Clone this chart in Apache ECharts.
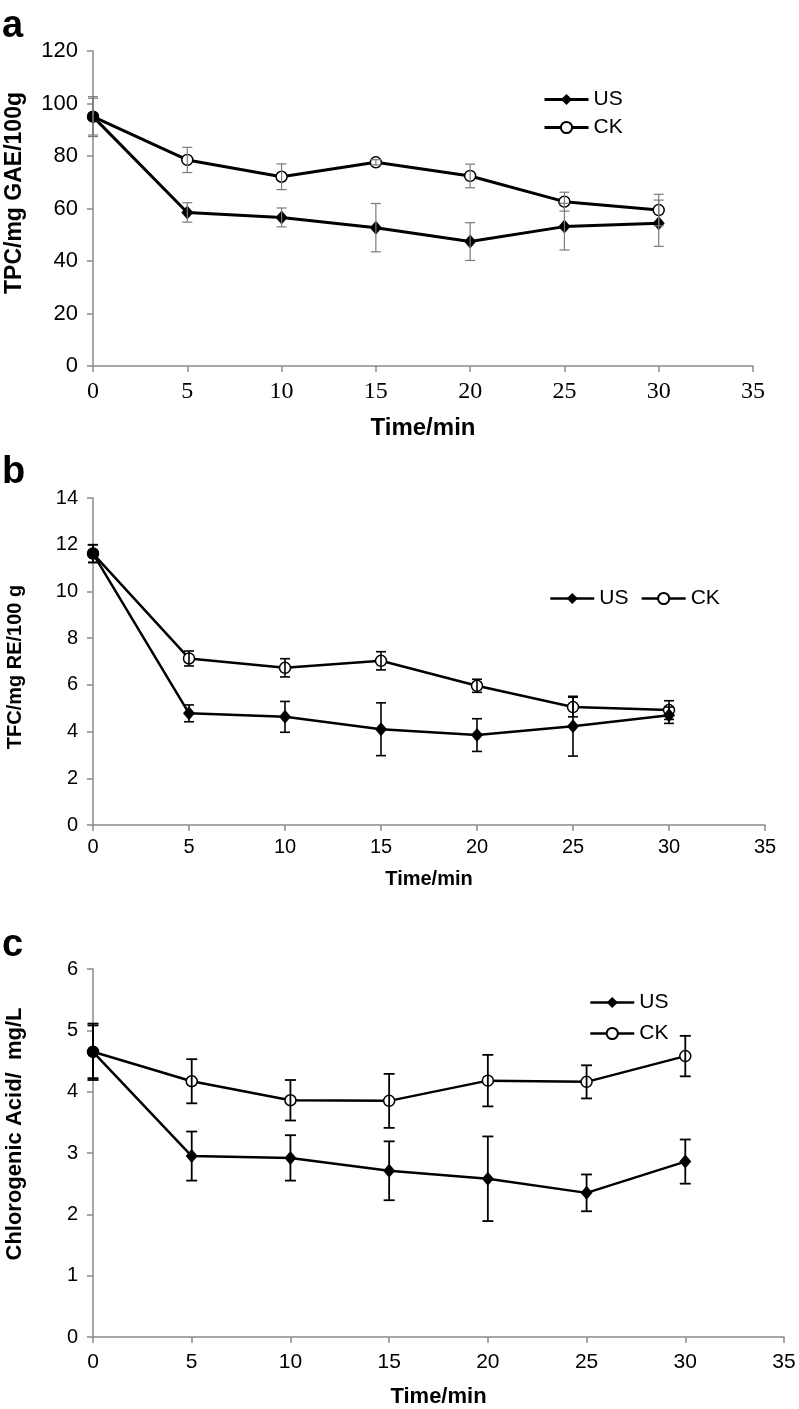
<!DOCTYPE html>
<html>
<head>
<meta charset="utf-8">
<script src="https://cdn.jsdelivr.net/npm/echarts@6/dist/echarts.min.js"></script>
<style>
  html, body { margin: 0; padding: 0; background: #fff; }
  #chart { width: 799px; height: 1409px; }
</style>
</head>
<body>
<div id="chart"></div>
<script>
// time points (min)
const timeMin = [0, 5, 10, 15, 20, 25, 30];

// a: TPC (mg GAE/100g)
const tpcUS = [95.0, 58.5, 56.6, 52.7, 47.4, 53.1, 54.4];
const tpcUSErr = [7.6, 3.7, 3.6, 9.2, 7.2, 8.9, 8.8];
const tpcCK = [95.0, 78.5, 72.1, 77.6, 72.4, 62.6, 59.4];
const tpcCKErr = [7.0, 4.8, 4.9, 1.0, 4.5, 3.6, 6.0];

// b: TFC (mg RE/100 g)
const tfcUS = [11.62, 4.78, 4.63, 4.10, 3.85, 4.23, 4.70];
const tfcUSErr = [0.38, 0.36, 0.66, 1.13, 0.70, 1.28, 0.35];
const tfcCK = [11.62, 7.13, 6.73, 7.03, 5.96, 5.05, 4.92];
const tfcCKErr = [0.38, 0.32, 0.39, 0.39, 0.28, 0.42, 0.40];

// c: chlorogenic acid (mg/L)
const cgaUS = [4.65, 2.95, 2.92, 2.71, 2.58, 2.35, 2.86];
const cgaUSErr = [0.46, 0.40, 0.37, 0.48, 0.69, 0.30, 0.36];
const cgaCK = [4.65, 4.17, 3.86, 3.85, 4.18, 4.16, 4.58];
const cgaCKErr = [0.43, 0.36, 0.33, 0.44, 0.42, 0.27, 0.33];

const SANS = '"Liberation Sans", Arial, sans-serif';
const SERIF = '"Liberation Serif", "Times New Roman", serif';
const AXIS_GREY = '#8a8a8a';

const panels = [
  {
    letter: 'a', letterY: 27,
    grid: { left: 93, top: 51, width: 660, height: 315 },
    yMax: 120, yStep: 20,
    us: tpcUS, usErr: tpcUSErr, ck: tpcCK, ckErr: tpcCKErr,
    yTitle: 'TPC/mg GAE/100g', yTitleY: 193, yTitleSize: 23,
    xTitleGap: 50, xTitleSize: 24,
    xFont: SERIF, xSize: 24, xMargin: 14, ySize: 22,
    lineW: 3, errColor: '#7a7a7a', errW: 1.2, cap: 5,
    legend: { left: 543, top: 89, orient: 'vertical', itemGap: 7 },
  },
  {
    letter: 'b', letterY: 473,
    grid: { left: 93, top: 498, width: 672, height: 327 },
    yMax: 14, yStep: 2,
    us: tfcUS, usErr: tfcUSErr, ck: tfcCK, ckErr: tfcCKErr,
    yTitle: 'TFC/mg RE/100 g', yTitleY: 667, yTitleSize: 20,
    xTitleGap: 44, xTitleSize: 20,
    xFont: SANS, xSize: 20, xMargin: 12, ySize: 20,
    lineW: 2.5, errColor: '#000', errW: 1.6, cap: 5,
    legend: { left: 549, top: 588, orient: 'horizontal', itemGap: 12 },
  },
  {
    letter: 'c', letterY: 946,
    grid: { left: 93, top: 969, width: 691, height: 368 },
    yMax: 6, yStep: 1,
    us: cgaUS, usErr: cgaUSErr, ck: cgaCK, ckErr: cgaCKErr,
    yTitle: 'Chlorogenic Acid/  mg/L', yTitleY: 1134, yTitleSize: 22,
    xTitleGap: 49, xTitleSize: 22,
    xFont: SANS, xSize: 21, xMargin: 15, ySize: 20,
    lineW: 2.5, errColor: '#000', errW: 1.8, cap: 5.5,
    legend: { left: 589, top: 992, orient: 'vertical', itemGap: 10 },
  },
];

function errorBarRenderer(color, width, cap) {
  return function (params, api) {
    const x = api.value(0);
    const top = api.coord([x, api.value(2)]);
    const bot = api.coord([x, api.value(1)]);
    const style = { stroke: color, lineWidth: width };
    return {
      type: 'group',
      children: [
        { type: 'line', shape: { x1: top[0], y1: top[1], x2: bot[0], y2: bot[1] }, style },
        { type: 'line', shape: { x1: top[0] - cap, y1: top[1], x2: top[0] + cap, y2: top[1] }, style },
        { type: 'line', shape: { x1: bot[0] - cap, y1: bot[1], x2: bot[0] + cap, y2: bot[1] }, style },
      ],
    };
  };
}

const grid = [], xAxis = [], yAxis = [], series = [], legend = [], graphic = [];

panels.forEach((p, i) => {
  grid.push(Object.assign({ outerBoundsMode: 'none', containLabel: false }, p.grid));

  const axisLine = { show: true, lineStyle: { color: AXIS_GREY, width: 1.5 } };
  const axisTick = { show: true, length: 6, lineStyle: { color: AXIS_GREY, width: 1.5 } };

  xAxis.push({
    type: 'value', gridIndex: i, min: 0, max: 35, interval: 5,
    axisLine, axisTick, splitLine: { show: false },
    axisLabel: { color: '#000', fontFamily: p.xFont, fontSize: p.xSize, margin: p.xMargin },
    name: 'Time/min', nameLocation: 'middle', nameGap: p.xTitleGap,
    nameTextStyle: { color: '#000', fontFamily: SANS, fontWeight: 'bold', fontSize: p.xTitleSize, verticalAlign: 'top' },
  });
  yAxis.push({
    type: 'value', gridIndex: i, min: 0, max: p.yMax, interval: p.yStep,
    axisLine, axisTick, splitLine: { show: false },
    axisLabel: { color: '#000', fontFamily: SANS, fontSize: p.ySize, margin: 15 },
  });

  const usData = timeMin.map((t, k) => k === 0
    ? { value: [t, p.us[k]], symbol: 'circle', symbolSize: 12 }
    : [t, p.us[k]]);
  const ckData = timeMin.map((t, k) => [t, p.ck[k]]);

  series.push({
    name: 'US', type: 'line', xAxisIndex: i, yAxisIndex: i, z: 3,
    data: usData, symbol: 'diamond', symbolSize: [12, 14],
    lineStyle: { color: '#000', width: p.lineW },
    itemStyle: { color: '#000' },
  });
  series.push({
    name: 'CK', type: 'line', xAxisIndex: i, yAxisIndex: i, z: 2,
    data: ckData, symbol: 'circle', symbolSize: 11,
    lineStyle: { color: '#000', width: p.lineW },
    itemStyle: { color: '#fff', borderColor: '#000', borderWidth: 1.5 },
  });
  [[p.us, p.usErr], [p.ck, p.ckErr]].forEach(([vals, errs]) => {
    series.push({
      type: 'custom', xAxisIndex: i, yAxisIndex: i, z: 4, silent: true,
      renderItem: errorBarRenderer(p.errColor, p.errW, p.cap),
      encode: { x: 0, y: [1, 2] },
      data: timeMin.map((t, k) => [t, vals[k] - errs[k], vals[k] + errs[k]]),
    });
  });

  legend.push(Object.assign({
    data: ['US', 'CK'], itemWidth: 44, itemHeight: 14, padding: 0, selectedMode: false,
    lineStyle: { width: p.lineW, color: '#000' },
    textStyle: { color: '#000', fontFamily: SANS, fontSize: 21 },
  }, p.legend));

  graphic.push({
    type: 'text', x: 2, y: p.letterY,
    style: { text: p.letter, font: 'bold 38px ' + SANS, fill: '#000', align: 'left', verticalAlign: 'middle' },
  });
  graphic.push({
    type: 'text', x: 15, y: p.yTitleY, rotation: Math.PI / 2,
    style: { text: p.yTitle, font: 'bold ' + p.yTitleSize + 'px ' + SANS, fill: '#000', align: 'center', verticalAlign: 'middle' },
  });
});

const chart = echarts.init(document.getElementById('chart'));
chart.setOption({
  animation: false,
  backgroundColor: '#fff',
  grid, xAxis, yAxis, series, legend, graphic,
});
</script>
</body>
</html>
